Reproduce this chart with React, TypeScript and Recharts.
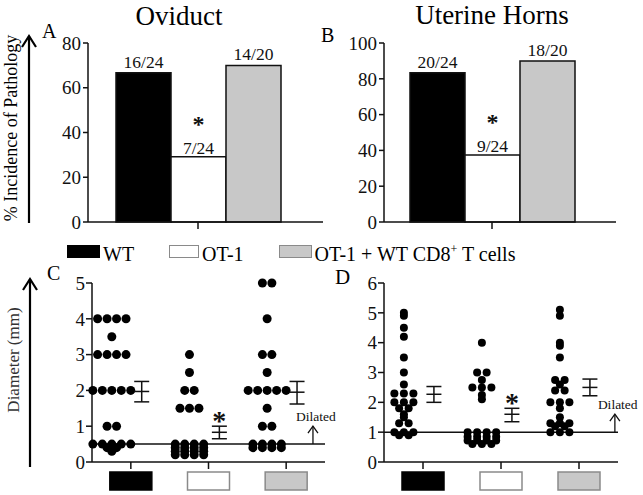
import React from 'react';
import {
  BarChart, Bar, XAxis, YAxis, LabelList,
  ScatterChart, Scatter, ErrorBar, ReferenceLine,
} from 'recharts';

const FONT = '"Liberation Serif", "Times New Roman", Times, serif';
const INK = '#111111';

// ---- groups ----
const groupNames = ['WT', 'OT-1', 'OT-1 + WT CD8+ T cells'];
const groupFills = ['#000000', '#ffffff', '#c8c8c8'];
const groupBorders = ['#000000', '#8a8a8a', '#8a8a8a'];
const significant = [false, true, false];

// ---- Panel A: oviduct incidence ----
const oviductAffected = [16, 7, 14];
const oviductTotal = [24, 24, 20];
const oviductPctTicks = [0, 20, 40, 60, 80];

// ---- Panel B: uterine horn incidence ----
const uterineAffected = [20, 9, 18];
const uterineTotal = [24, 24, 20];
const uterinePctTicks = [0, 20, 40, 60, 80, 100];

// ---- Panel C: oviduct diameter (mm) ----
const oviductDiamWT = [4, 4, 4, 4, 3.5, 3, 3, 3, 3, 2, 2, 2, 2, 2, 1, 1, 0.5, 0.5, 0.5, 0.5, 0.5, 0.4, 0.4, 0.3];
const oviductDiamOT1 = [3, 2.5, 2, 2, 1.5, 1.5, 1.5, 0.5, 0.5, 0.5, 0.5, 0.4, 0.4, 0.4, 0.4, 0.3, 0.3, 0.3, 0.3, 0.2, 0.2, 0.2, 0.2];
const oviductDiamOTWT = [5, 5, 4, 3, 3, 2.5, 2, 2, 2, 2, 2, 1.5, 1, 1, 0.5, 0.5, 0.5, 0.5, 0.4, 0.4, 0.4, 0.4];
const oviductMean = [1.97, 0.83, 1.95];
const oviductLow = [1.68, 0.65, 1.62];
const oviductHigh = [2.25, 1.0, 2.25];
const oviductDilated = 0.5;
const oviductDiamTicks = [0, 1, 2, 3, 4, 5];

// ---- Panel D: uterine horn diameter (mm) ----
const uterineDiamWT = [5.0, 4.9, 4.5, 4.2, 3.5, 3.0, 2.6, 2.3, 2.3, 2.3, 2.0, 2.0, 2.0, 1.8, 1.8, 1.6, 1.5, 1.3, 1.3, 1.0, 1.0, 1.0, 0.9, 0.9];
const uterineDiamOT1 = [4.0, 3.0, 3.0, 2.75, 2.5, 2.5, 2.5, 2.25, 2.1, 1.0, 1.0, 1.0, 1.0, 0.85, 0.85, 0.85, 0.85, 0.72, 0.72, 0.72, 0.72, 0.6, 0.6, 0.6];
const uterineDiamOTWT = [5.1, 4.9, 4.0, 3.9, 3.5, 2.75, 2.75, 2.6, 2.4, 2.4, 2.0, 2.0, 2.0, 1.8, 1.5, 1.3, 1.3, 1.3, 1.2, 1.2, 1.0, 1.0, 1.0];
const uterineMean = [2.27, 1.6, 2.5];
const uterineLow = [2.0, 1.35, 2.22];
const uterineHigh = [2.53, 1.8, 2.78];
const uterineDilated = 1;
const uterineDiamTicks = [0, 1, 2, 3, 4, 5, 6];

// layout constants (in x-axis units)
const DOT_SHIFT = -0.245;
const MEAN_SHIFT = 0.14;
const DOT_SPACING = 0.122;
const DILATED_X_C = 3.345;
const DILATED_X_D = 3.46;

function swarm(values: number[], group: number) {
  const counts = new Map<number, number>();
  values.forEach((v) => counts.set(v, (counts.get(v) || 0) + 1));
  const seen = new Map<number, number>();
  return values.map((v) => {
    const n = counts.get(v) as number;
    const i = seen.get(v) || 0;
    seen.set(v, i + 1);
    return { x: group + 1 + DOT_SHIFT + (i - (n - 1) / 2) * DOT_SPACING, y: v };
  });
}

const tickStyle = { fontSize: 19, fill: INK };

function BarLabel(p: any, text: string, star: boolean) {
  const vb = p.viewBox || p;
  const x = (vb.x ?? p.x) + (vb.width ?? p.width) / 2;
  const y = vb.y ?? p.y;
  return (
    <g>
      {star && (
        <text x={x} y={y - 25} textAnchor="middle" fontSize={24} fontWeight="bold" fill={INK}>*</text>
      )}
      <text x={x} y={y - (star ? 3 : 5)} textAnchor="middle" fontSize={17.5} fill={INK}>{text}</text>
    </g>
  );
}

function BarPanel(props: {
  affected: number[]; total: number[]; ticks: number[];
  left: number; marginLeft: number; marginRight: number; padRight: number;
}) {
  const { affected, total, ticks } = props;
  const row: any = { name: 'all' };
  affected.forEach((a, i) => { row['g' + i] = (a / total[i]) * 100; });
  return (
    <div style={{ position: 'absolute', left: props.left, top: 0 }}>
      <BarChart width={330} height={240} data={[row]} barGap={0}
        margin={{ top: 43, right: props.marginRight, bottom: 0, left: props.marginLeft }}>
        <XAxis dataKey="name" type="category" height={18} tickSize={7}
          tickFormatter={() => ''} padding={{ left: 0, right: props.padRight }}
          axisLine={{ stroke: INK, strokeWidth: 1.5 }} tickLine={{ stroke: INK, strokeWidth: 1.5 }} />
        <YAxis type="number" domain={[0, ticks[ticks.length - 1]]} ticks={ticks} width={40}
          tickSize={5} tickMargin={2} tick={tickStyle}
          axisLine={{ stroke: INK, strokeWidth: 1.5 }} tickLine={{ stroke: INK, strokeWidth: 1.5 }} />
        {groupNames.map((g, i) => (
          <Bar key={g} dataKey={'g' + i} fill={groupFills[i]} stroke={INK} strokeWidth={1.5}
            barSize={55} isAnimationActive={false}>
            <LabelList dataKey={'g' + i}
              content={(p: any) => BarLabel(p, `${affected[i]}/${total[i]}`, significant[i])} />
          </Bar>
        ))}
      </BarChart>
    </div>
  );
}

function BoxTick(p: any) {
  const i = Math.round(p.payload.value) - 1;
  return (
    <rect x={p.x - 21} y={p.y} width={42} height={18}
      fill={groupFills[i]} stroke={groupBorders[i]} strokeWidth={1.5} />
  );
}

function ScatterPanel(props: {
  series: number[][]; mean: number[]; low: number[]; high: number[];
  dilated: number; dilatedX: number; ticks: number[]; r: number;
  left: number; width: number; marginLeft: number; marginRight: number;
}) {
  const { series, mean, low, high, ticks, dilated, r } = props;
  const means = mean.map((m, i) => ({ x: i + 1 + MEAN_SHIFT, y: m, err: [m - low[i], high[i] - m] }));
  const stars = mean
    .map((m, i) => ({ x: i + 1 + MEAN_SHIFT, y: high[i], s: significant[i] }))
    .filter((d) => d.s);
  return (
    <div style={{ position: 'absolute', left: props.left, top: 250 }}>
      <ScatterChart width={props.width} height={245}
        margin={{ top: 33, right: props.marginRight, bottom: 0, left: props.marginLeft }}>
        <XAxis type="number" dataKey="x" domain={[0.5, 3.5]} ticks={[1, 2, 3]} height={33}
          tickSize={7} tickMargin={3} tick={<BoxTick />}
          axisLine={{ stroke: INK, strokeWidth: 1.5 }} tickLine={{ stroke: INK, strokeWidth: 1.5 }} />
        <YAxis type="number" dataKey="y" domain={[0, ticks[ticks.length - 1]]} ticks={ticks} width={40}
          tickSize={6} tickMargin={1} tick={tickStyle}
          axisLine={{ stroke: INK, strokeWidth: 1.5 }} tickLine={{ stroke: INK, strokeWidth: 1.5 }} />
        <ReferenceLine y={dilated} stroke={INK} strokeWidth={1.5} />
        {series.map((vals, i) => (
          <Scatter key={i} data={swarm(vals, i)} isAnimationActive={false}
            shape={(p: any) => <circle cx={p.cx} cy={p.cy} r={r} fill="#000" />} />
        ))}
        <Scatter data={means} isAnimationActive={false}
          shape={(p: any) => <line x1={p.cx - 7.5} x2={p.cx + 7.5} y1={p.cy} y2={p.cy} stroke={INK} strokeWidth={1.5} />}>
          <ErrorBar dataKey="err" direction="y" width={7.5} stroke={INK} strokeWidth={1.5} />
        </Scatter>
        <Scatter data={stars} isAnimationActive={false}
          shape={(p: any) => (
            <text x={p.cx} y={p.cy - 10 + 14} textAnchor="middle" fontSize={28} fontWeight="bold" fill={INK}>*</text>
          )} />
        <Scatter data={[{ x: props.dilatedX, y: dilated }]} isAnimationActive={false}
          shape={(p: any) => (
            <g>
              <line x1={p.cx} x2={p.cx} y1={p.cy} y2={p.cy - 18} stroke={INK} strokeWidth={1.3} />
              <polyline points={`${p.cx - 5},${p.cy - 11} ${p.cx},${p.cy - 18} ${p.cx + 5},${p.cy - 11}`}
                fill="none" stroke={INK} strokeWidth={1.3} />
              <text x={p.cx - 17} y={p.cy - 23} fontSize={13.5} fill={INK}>Dilated</text>
            </g>
          )} />
      </ScatterChart>
    </div>
  );
}

function VArrow({ x, y1, y2 }: { x: number; y1: number; y2: number }) {
  return (
    <g stroke="#000" strokeWidth={2.2} fill="none">
      <line x1={x} x2={x} y1={y1} y2={y2} />
      <polyline points={`${x - 7},${y2 + 11} ${x},${y2} ${x + 7},${y2 + 11}`} />
    </g>
  );
}

export default function App() {
  return (
    <div className="fig-root" style={{ position: 'absolute', left: 0, top: 0, width: 643, height: 495, background: '#fff', fontFamily: FONT, overflow: 'hidden' }}>
      <style>{`.fig-root, .fig-root text, .fig-root tspan { font-family: ${FONT}; }`}</style>
      <BarPanel affected={oviductAffected} total={oviductTotal} ticks={oviductPctTicks}
        left={0} marginLeft={48} marginRight={7} padRight={15} />
      <BarPanel affected={uterineAffected} total={uterineTotal} ticks={uterinePctTicks}
        left={300} marginLeft={44} marginRight={14} padRight={16} />
      <ScatterPanel series={[oviductDiamWT, oviductDiamOT1, oviductDiamOTWT]}
        mean={oviductMean} low={oviductLow} high={oviductHigh}
        dilated={oviductDilated} dilatedX={DILATED_X_C} ticks={oviductDiamTicks} r={4.5}
        left={0} width={340} marginLeft={52} marginRight={15} />
      <ScatterPanel series={[uterineDiamWT, uterineDiamOT1, uterineDiamOTWT]}
        mean={uterineMean} low={uterineLow} high={uterineHigh}
        dilated={uterineDilated} dilatedX={DILATED_X_D} ticks={uterineDiamTicks} r={4}
        left={330} width={313} marginLeft={14} marginRight={25} />

      {/* legend */}
      <div style={{ position: 'absolute', left: 67, top: 244, display: 'flex', alignItems: 'flex-start' }}>
        {groupNames.map((g, i) => (
          <div key={g} style={{ display: 'flex', alignItems: 'flex-start', marginRight: 35, lineHeight: '20px', fontSize: 20, whiteSpace: 'nowrap' }}>
            <span style={{ display: 'inline-block', width: i === 1 ? 30 : 33, height: 13, marginTop: 1, boxSizing: 'border-box', background: groupFills[i], border: `1.5px solid ${groupBorders[i]}` }} />
            <span style={{ marginLeft: 3 }}>
              {g.endsWith('+ T cells') ? (<>OT-1 + WT CD8<sup style={{ fontSize: 12, lineHeight: 0 }}>+</sup> T cells</>) : g}
            </span>
          </div>
        ))}
      </div>

      <svg width={643} height={495} style={{ position: 'absolute', left: 0, top: 0, pointerEvents: 'none' }}>
        <g fill="#000">
          <text x={179} y={25} fontSize={27} textAnchor="middle">Oviduct</text>
          <text x={492} y={24} fontSize={27} textAnchor="middle">Uterine Horns</text>
          <text x={42} y={38} fontSize={20}>A</text>
          <text x={321} y={42} fontSize={20}>B</text>
          <text x={47} y={280} fontSize={20}>C</text>
          <text x={335} y={284} fontSize={21}>D</text>
          <text x={17} y={128} fontSize={18} textAnchor="middle" transform="rotate(-90 17 128)">% Incidence of Pathology</text>
          <text x={19} y={360} fontSize={17} textAnchor="middle" fill="#333" transform="rotate(-90 19 360)">Diameter (mm)</text>
        </g>
        <VArrow x={29} y1={223} y2={36} />
        <VArrow x={30} y1={467} y2={279} />
      </svg>
    </div>
  );
}
